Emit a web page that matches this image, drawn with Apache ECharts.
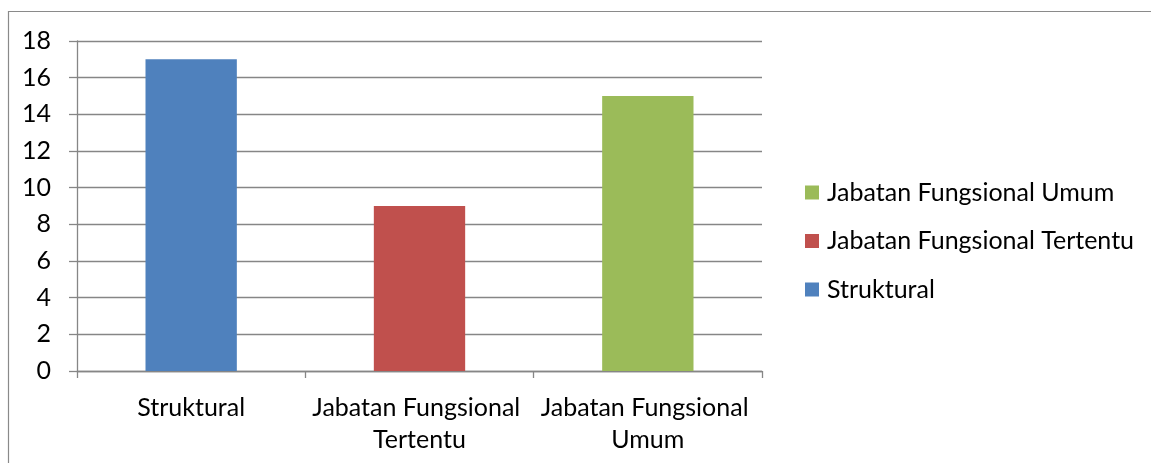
<!DOCTYPE html>
<html>
<head>
<meta charset="utf-8">
<style>
  html, body { margin: 0; padding: 0; background: #ffffff; }
  #chart { width: 1151px; height: 463px; }
</style>
<script src="https://cdn.jsdelivr.net/npm/echarts@6/dist/echarts.min.js"></script>
</head>
<body>
<div id="chart"></div>
<script>
// Jumlah pegawai per jenis jabatan
const categories = ['Struktural', 'Jabatan Fungsional Tertentu', 'Jabatan Fungsional Umum'];
const values = [17, 9, 15];
const colors = ['#4F81BD', '#C0504D', '#9BBB59'];
const yTicks = { min: 0, max: 18, interval: 2 };

const FONT = 'Lato, "Open Sans", sans-serif';
const FONT_SIZE = 25;

const chart = echarts.init(document.getElementById('chart'), null, { renderer: 'canvas' });

// one series per category so each gets its own legend entry; stacked so bars stay centred
const series = categories.map((name, i) => ({
  name: name,
  type: 'bar',
  stack: 'total',
  barWidth: '40%',
  itemStyle: { color: colors[i] },
  data: categories.map((_, j) => (j === i ? values[i] : '-'))
}));

chart.setOption({
  animation: false,
  backgroundColor: '#ffffff',
  graphic: [{
    type: 'rect',
    shape: { x: 8.5, y: 11.5, width: 1200, height: 500 },
    style: { fill: 'none', stroke: '#8a8a8a', lineWidth: 1.2 },
    silent: true
  }],
  grid: { left: 77, right: 389, top: 41, bottom: 92, containLabel: false },
  legend: {
    orient: 'vertical',
    left: 805,
    top: 180,
    itemWidth: 14,
    itemHeight: 14,
    itemGap: 23.5,
    icon: 'rect',
    padding: 0,
    data: categories.slice().reverse(),
    textStyle: { fontFamily: FONT, fontSize: FONT_SIZE, lineHeight: 25, color: '#000000', padding: [0, 0, 0, 3] }
  },
  xAxis: {
    type: 'category',
    data: categories,
    axisLine: { lineStyle: { color: '#868686', width: 1.3 } },
    axisTick: { show: true, alignWithLabel: false, length: 7, lineStyle: { color: '#868686', width: 1.3 } },
    axisLabel: {
      interval: 0,
      margin: 21,
      width: 222,
      overflow: 'break',
      lineHeight: 32,
      fontFamily: FONT,
      fontSize: FONT_SIZE,
      color: '#000000'
    },
    splitLine: { show: false }
  },
  yAxis: {
    type: 'value',
    min: yTicks.min,
    max: yTicks.max,
    interval: yTicks.interval,
    axisLine: { show: true, lineStyle: { color: '#868686', width: 1.3 } },
    axisTick: { show: true, inside: false, length: 8, lineStyle: { color: '#868686', width: 1.3 } },
    axisLabel: { margin: 26, fontFamily: FONT, fontSize: FONT_SIZE, color: '#000000' },
    splitLine: { show: true, lineStyle: { color: '#868686', width: 1.3 } }
  },
  series: series
});
</script>
</body>
</html>
